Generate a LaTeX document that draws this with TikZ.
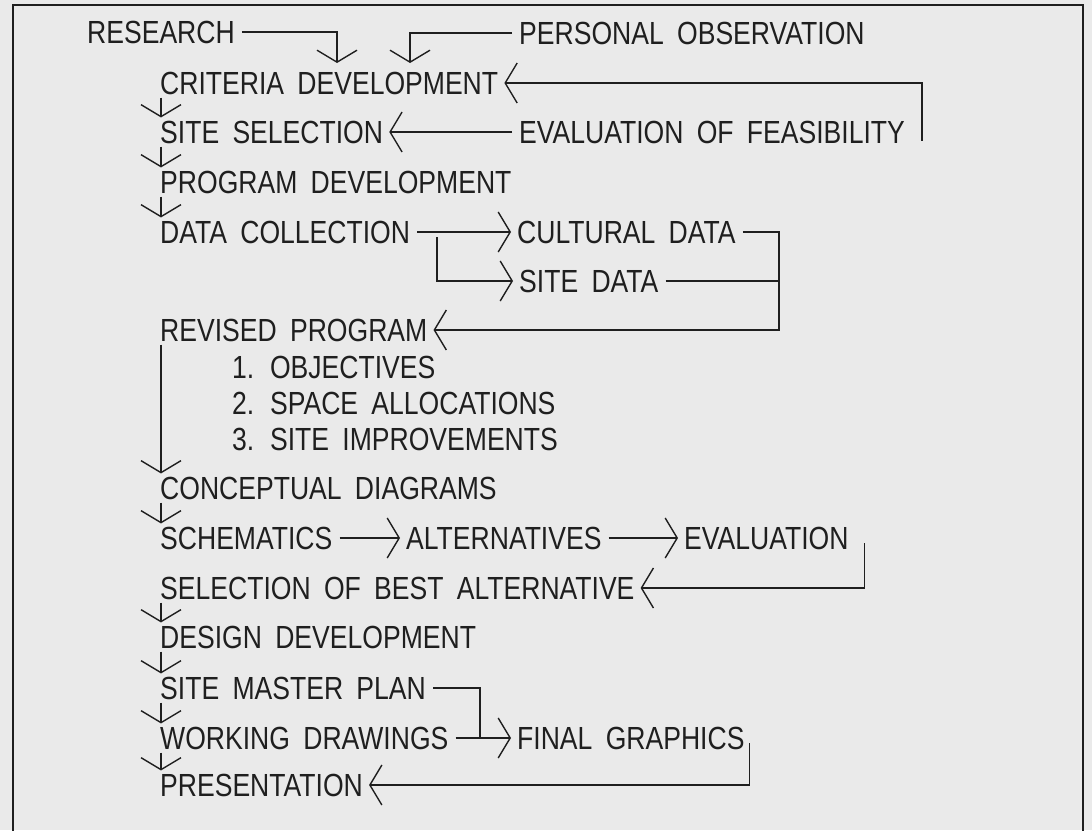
\documentclass[tikz,border=0pt]{standalone}
\usepackage{fontspec}
\setmainfont{Liberation Sans}[FakeStretch=0.83, WordSpace=1.8]
\usetikzlibrary{arrows.meta}
\definecolor{paper}{HTML}{EAEAEA}
\definecolor{ink}{HTML}{1F1F1F}

\begin{document}
\begin{tikzpicture}[x=1pt, y=-1pt,
  lbl/.style={anchor=west, inner sep=2pt, text=ink, font=\fontsize{32}{38}\selectfont},
  con/.style={draw=ink, line width=1.4pt},
  arr/.style={con, -{Straight Barb[length=12pt,width=40pt]}, shorten <=5pt, shorten >=4pt},
  down/.style={arr, shorten <=1pt, shorten >=1pt}]

% Paper and frame
\clip (0,0) rectangle (1092,830);
\fill[paper] (0,0) rectangle (1092,830);
\draw[con, line width=1.8pt] (13,870) -- (13,5) -- (1083,5) -- (1083,870);

% Steps of the process
\node[lbl] (res) at (85,32) {RESEARCH};
\node[lbl] (obs) at (517,33) {PERSONAL OBSERVATION};
\node[lbl] (crit) at (158,83) {CRITERIA DEVELOPMENT};
\node[lbl] (site) at (158,132) {SITE SELECTION};
\node[lbl] (feas) at (517,132) {EVALUATION OF FEASIBILITY};
\node[lbl] (prog) at (158,182) {PROGRAM DEVELOPMENT};
\node[lbl] (data) at (158,232) {DATA COLLECTION};
\node[lbl] (cult) at (515,232) {CULTURAL DATA};
\node[lbl] (sdata) at (517,281) {SITE DATA};
\node[lbl] (rev) at (158,330) {REVISED PROGRAM};
\node[lbl] (obj) at (230,367) {1. OBJECTIVES};
\node[lbl] (space) at (230,403) {2. SPACE ALLOCATIONS};
\node[lbl] (imp) at (230,439) {3. SITE IMPROVEMENTS};
\node[lbl] (conc) at (158,488) {CONCEPTUAL DIAGRAMS};
\node[lbl] (schem) at (158,538) {SCHEMATICS};
\node[lbl] (alt) at (404,538) {ALTERNATIVES};
\node[lbl] (eval) at (682,538) {EVALUATION};
\node[lbl] (best) at (158,588) {SELECTION OF BEST ALTERNATIVE};
\node[lbl] (design) at (158,637) {DESIGN DEVELOPMENT};
\node[lbl] (master) at (158,688) {SITE MASTER PLAN};
\node[lbl] (work) at (158,738) {WORKING DRAWINGS};
\node[lbl] (final) at (515,738) {FINAL GRAPHICS};
\node[lbl] (pres) at (158,785) {PRESENTATION};

% Main column, top to bottom
\foreach \a/\b in {crit/site, site/prog, prog/data, rev/conc, conc/schem,
                   best/design, design/master, master/work, work/pres}
  \draw[down] ([xshift=3pt]\a.south west) -- ([xshift=3pt]\b.north west);

% Inputs to the criteria
\coordinate (resdrop) at (337,67);
\coordinate (obsdrop) at (410,67);
\draw[arr] (res.east) -| (resdrop);
\draw[arr] (obs.west) -| (obsdrop);

% Feasibility loops
\draw[arr] (feas.west) -- (site.east);
\draw[arr] ([xshift=15pt]feas.south east) |- (crit.east);

% Data branches and return
\coordinate (split) at (437,0);
\coordinate (merge) at (779,0);
\draw[arr] (data.east) -- (cult.west);
\draw[arr] (split |- data.east) |- (sdata.west);
\draw[arr] (cult.east) -| (merge |- rev.east) -- (rev.east);
\draw[con, shorten <=5pt] (sdata.east) -- (merge |- sdata.east);

% Alternatives
\draw[arr] (schem.east) -- (alt.west);
\draw[arr] (alt.east) -- (eval.west);
\draw[arr] ([xshift=14pt]eval.east) |- (best.east);

% Final graphics
\coordinate (join) at (480,0);
\draw[con, shorten <=5pt] (master.east) -| (join |- work.east);
\draw[arr] (work.east) -- (final.west);
\draw[arr] ([xshift=3pt]final.east) |- (pres.east);

\end{tikzpicture}
\end{document}
